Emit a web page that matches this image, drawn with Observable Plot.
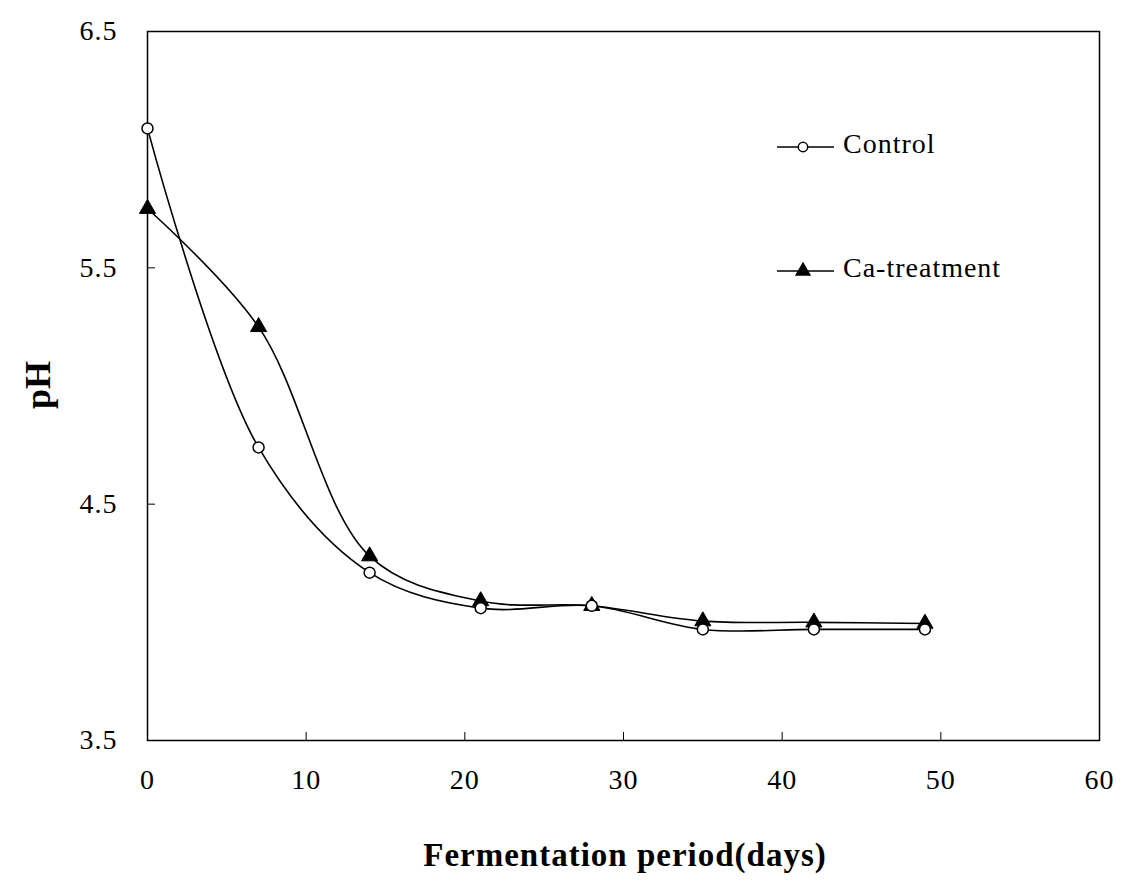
<!DOCTYPE html>
<html><head><meta charset="utf-8">
<script src="https://cdn.jsdelivr.net/npm/d3@7"></script>
<script src="https://cdn.jsdelivr.net/npm/@observablehq/plot@0.6"></script>
<style>
body{margin:0;background:#fff}
#wrap{position:relative;width:1131px;height:881px}
#wrap svg, #wrap svg text{font-family:"Liberation Serif","Times New Roman",serif !important}
</style>
</head><body><div id="wrap"></div>
<script>
const days = [0, 7, 14, 21, 28, 35, 42, 49];
const controlPH = [6.09, 4.74, 4.21, 4.06, 4.07, 3.97, 3.97, 3.97];
const caPH = [5.75, 5.25, 4.28, 4.09, 4.07, 4.005, 4.0, 3.995];
const seriesNames = ["Control", "Ca-treatment"];
const xTicks = [0, 10, 20, 30, 40, 50, 60];
const yTicks = [3.5, 4.5, 5.5, 6.5];
const xTitle = "Fermentation period(days)";
const yTitle = "pH";

const control = days.map((d, i) => ({day: d, ph: controlPH[i], s: seriesNames[0]}));
const ca = days.map((d, i) => ({day: d, ph: caPH[i], s: seriesNames[1]}));

const font = "Liberation Serif, Times New Roman, serif";

const chart = Plot.plot({
  width: 1131,
  height: 881,
  marginLeft: 147,
  marginRight: 32,
  marginTop: 31,
  marginBottom: 141,
  style: {fontFamily: font, background: "#fff", color: "#000"},
  x: {domain: [0, 60], ticks: xTicks},
  y: {domain: [3.5, 6.5], ticks: yTicks},
  marks: [
    Plot.frame({stroke: "#000", strokeWidth: 1.5}),
    Plot.axisX({ticks: xTicks, tickSize: 0, tickPadding: 29, fontSize: 28, label: null}),
    Plot.axisX({ticks: [10, 20, 30, 40, 50], tickSize: -8, tickFormat: () => "", label: null, strokeWidth: 1}),
    Plot.axisY({ticks: yTicks, tickSize: 0, tickPadding: 30, fontSize: 28, tickFormat: d3.format(".1f"), label: null}),
    Plot.axisY({ticks: [4.5, 5.5], tickSize: -8, tickFormat: () => "", label: null, strokeWidth: 1}),
    Plot.line(control, {x: "day", y: "ph", curve: "catmull-rom", stroke: "#000", strokeWidth: 1.6}),
    Plot.line(ca, {x: "day", y: "ph", curve: "catmull-rom", stroke: "#000", strokeWidth: 1.6}),
    Plot.dot(ca, {x: "day", y: "ph", symbol: "triangle", r: 6, fill: "#000", stroke: "#000", strokeWidth: 1}),
    Plot.dot(control, {x: "day", y: "ph", symbol: "circle", r: 5.5, fill: "#fff", stroke: "#000", strokeWidth: 1.5})
  ]
});

const wrap = document.getElementById("wrap");
wrap.appendChild(chart);

const svg = d3.select(chart);
svg.selectAll("text").attr("font-family", font).attr("letter-spacing", 1).style("font-variant", "normal");

// axis titles
svg.append("text")
  .attr("x", 625).attr("y", 858)
  .attr("text-anchor", "middle").attr("dominant-baseline", "middle")
  .attr("font-family", font).attr("font-weight", "bold").attr("font-size", 33)
  .attr("letter-spacing", 1)
  .text(xTitle);
svg.append("text")
  .attr("transform", "translate(42,385) rotate(-90)")
  .attr("text-anchor", "middle").attr("dominant-baseline", "middle")
  .attr("font-family", font).attr("font-weight", "bold").attr("font-size", 36)
  .text(yTitle);

// legend
const legendRows = [
  {name: seriesNames[0], y: 147, sym: d3.symbolCircle, fill: "#fff"},
  {name: seriesNames[1], y: 271, sym: d3.symbolTriangle, fill: "#000"}
];
const lg = svg.append("g");
legendRows.forEach(r => {
  lg.append("line").attr("x1", 777).attr("x2", 834).attr("y1", r.y).attr("y2", r.y)
    .attr("stroke", "#000").attr("stroke-width", 1.6);
  lg.append("path").attr("transform", `translate(803,${r.y})`)
    .attr("d", d3.symbol(r.sym, r.sym === d3.symbolCircle ? 70 : 80)())
    .attr("fill", r.fill).attr("stroke", "#000").attr("stroke-width", 1.5);
  lg.append("text").attr("x", 843).attr("y", r.y)
    .attr("text-anchor", "start")
    .attr("dominant-baseline", "middle")
    .attr("font-family", font).attr("font-size", 28).attr("letter-spacing", 1)
    .text(r.name);
});
</script>
</body></html>
